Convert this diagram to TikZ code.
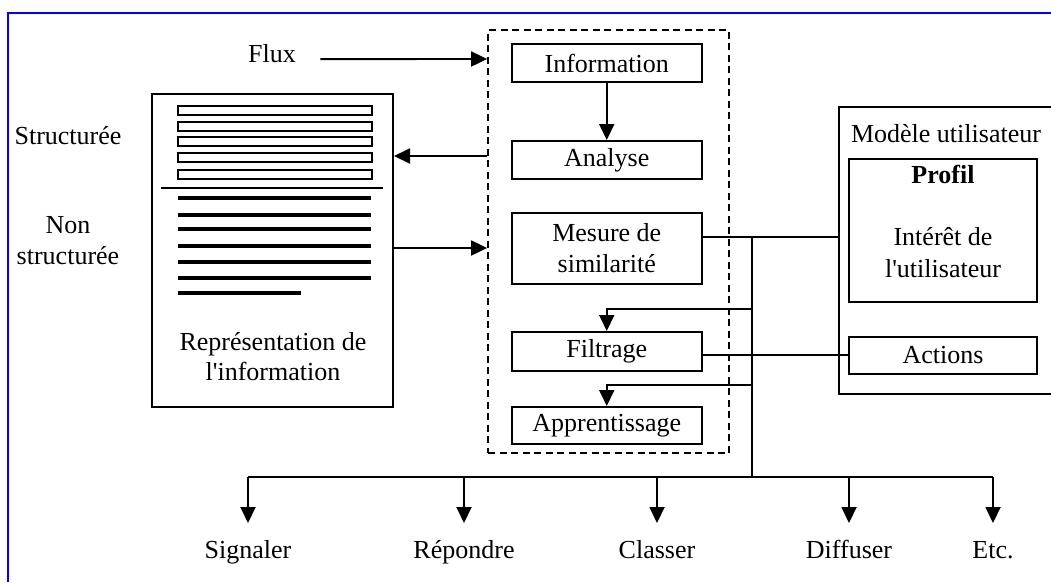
\documentclass[tikz,border=0pt]{standalone}
\usepackage{fontspec}
\setmainfont{Liberation Serif}[Ligatures=TeXOff]
\usetikzlibrary{arrows.meta,calc}

\begin{document}
\begin{tikzpicture}[x=1pt,y=-1pt,
  txt/.style={font=\fontsize{26}{31}\selectfont},
  every node/.style={txt},
  box/.style={draw, line width=2pt, minimum width=189.5pt, inner sep=0pt, align=center},
  conn/.style={line width=1.9pt},
  arr/.style={conn, -{Triangle[length=16pt,width=15pt]}},
  docbar/.style={line width=3.8pt},
  docslot/.style={line width=1.8pt},
  lbl/.style={txt, anchor=base}
]
\useasboundingbox (0,0) rectangle (1051,582);

% outer frame
\draw[blue, line width=2.2pt] (8,582) -- (8,13) -- (1051,13);

% processing chain (dashed group)
\node[draw, line width=1.8pt, dash pattern=on 7pt off 4.5pt, inner sep=0pt,
      minimum width=241pt, minimum height=423pt] (proc) at (608.5,241.5) {};
\node[box, minimum height=38pt] (info) at (606.75,63) {Information};
\node[box, minimum height=38pt] (analyse) at (606.75,160) {Analyse};
\node[box, minimum height=71pt] (mesure) at (606.75,248.5) {Mesure de\\similarité};
\node[box, minimum height=39pt] (filtrage) at (606.75,351.5) {Filtrage};
\node[box, minimum height=37pt] (appr) at (606.75,425.5) {Apprentissage};

% incoming flow
\node[lbl] (flux) at (272,62) {Flux};
\draw[arr] ($(flux.east)+(21,6)$) -- (proc.west |- 0,59);

% document representation
\node[draw, line width=2pt, inner sep=0pt, minimum width=241pt, minimum height=313pt]
  (doc) at (272.5,250.5) {};
\foreach \t in {106,122,137,153,170}
  \draw[docslot] (177.7,\t) rectangle (372,\t+9);
\draw[line width=1.5pt] (161,188) -- (383,188);
\foreach \y in {198,215,229,246,262,278}
  \draw[docbar] (178,\y) -- (371,\y);
\draw[docbar] (178,293) -- (301,293);
\node[lbl] (rep1) at (273,350) {Représentation de};
\node[lbl] (rep2) at (273,380) {l'information};

\node[lbl] (struct) at (68,144) {Structurée};
\node[lbl] (non1) at (68,233) {Non};
\node[lbl] (non2) at (68,264) {structurée};

\draw[arr] (proc.west |- 0,156) -- (doc.east |- 0,156);
\draw[arr] (doc.east |- 0,248) -- (proc.west |- 0,248);
\draw[arr] (info) -- (analyse);

% user model
\node[inner sep=0pt, minimum width=212pt, minimum height=287pt, anchor=north west]
  (modele) at (839,107) {};
\draw[line width=2pt] (modele.north east) -| (modele.south west) -- (modele.south east);
\node[lbl] (mu) at (946,142) {Modèle utilisateur};
\node[box, minimum width=188pt, minimum height=143pt] (profil) at (943,230.5) {};
\node[lbl, font=\fontsize{26}{31}\selectfont\bfseries] (profilt) at (943,183) {Profil};
\node[lbl] (int1) at (943,245) {Intérêt de};
\node[lbl] (int2) at (943,277) {l'utilisateur};
\node[box, minimum width=188pt, minimum height=37pt] (actions) at (943,355) {Actions};

% links and distribution bus
\coordinate (bt) at (752,237);
\coordinate (bb) at (752,477);
\draw[conn] (mesure.east |- bt) -- (modele.west |- bt);
\draw[conn] (bt) -- (bb);
\draw[arr] (bt |- 0,309) -| (filtrage.north);
\draw[arr] (bt |- 0,385) -| (appr.north);
\draw[conn] (filtrage.east |- actions.west) -- (actions.west);

% outputs
\node[lbl] (sig) at (248,558) {Signaler};
\node[lbl] (rep) at (464,558) {Répondre};
\node[lbl] (cla) at (657,558) {Classer};
\node[lbl] (dif) at (849,558) {Diffuser};
\node[lbl] (etc) at (993,558) {Etc.};
\draw[conn] (sig |- bb) -- (etc |- bb);
\foreach \n in {sig,rep,cla,dif,etc}
  \draw[arr] (\n |- bb) -- (\n |- 0,523);
\end{tikzpicture}
\end{document}
